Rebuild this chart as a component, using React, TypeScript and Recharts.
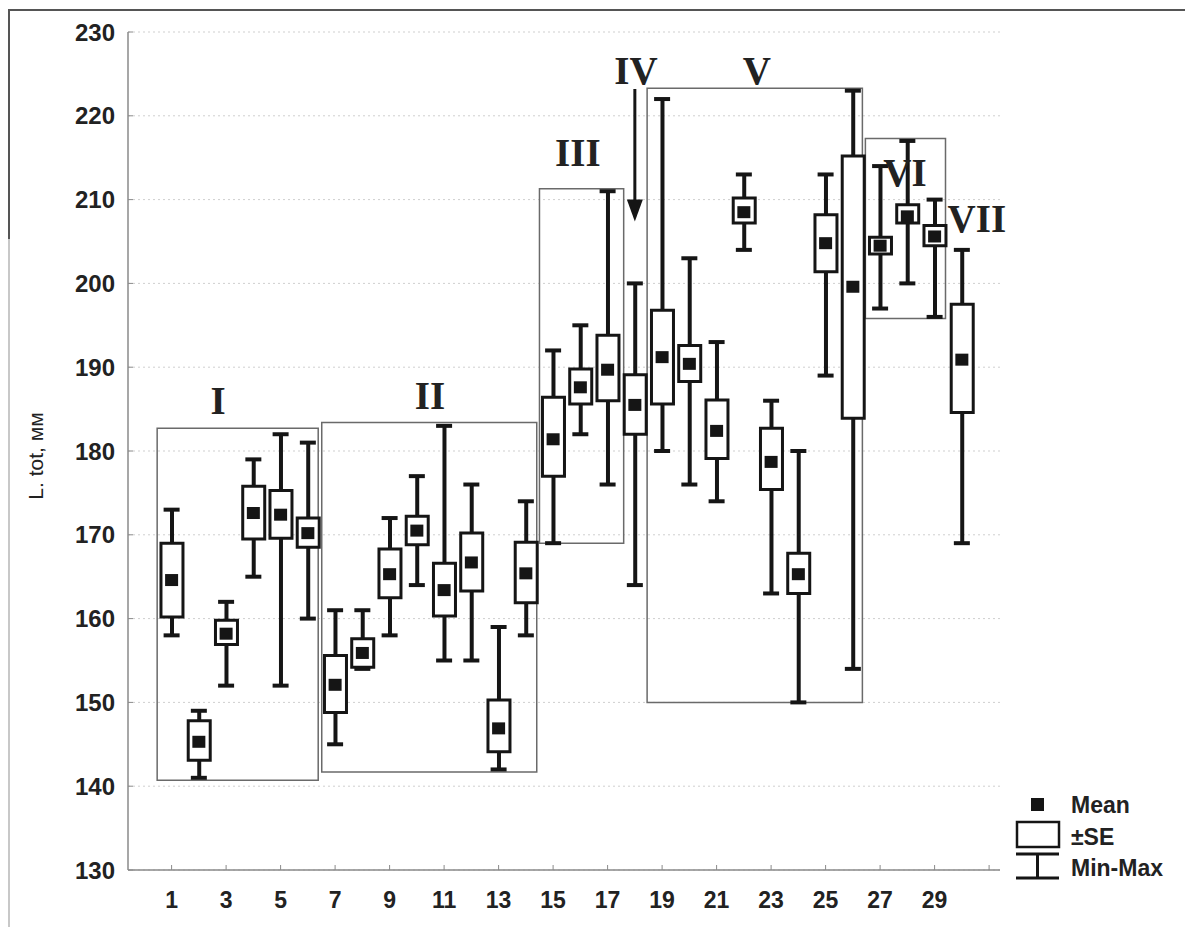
import React from "react";
import {
  ComposedChart,
  Bar,
  Scatter,
  XAxis,
  YAxis,
  CartesianGrid,
  ReferenceArea,
  ReferenceLine,
  ReferenceDot,
  Legend,
} from "recharts";

// sample numbers 1..30
const samples = [
  1, 2, 3, 4, 5, 6, 7, 8, 9, 10, 11, 12, 13, 14, 15,
  16, 17, 18, 19, 20, 21, 22, 23, 24, 25, 26, 27, 28, 29, 30,
];

const means = [
  164.6, 145.3, 158.2, 172.6, 172.4, 170.2, 152.1, 155.9, 165.3, 170.5,
  163.4, 166.7, 146.9, 165.4, 181.4, 187.6, 189.7, 185.5, 191.2, 190.4,
  182.4, 208.5, 178.7, 165.3, 204.8, 199.6, 204.5, 208.0, 205.6, 190.9,
];

// mean + SE / mean - SE
const seHigh = [
  169.0, 147.8, 159.8, 175.8, 175.3, 172.0, 155.6, 157.6, 168.3, 172.2,
  166.6, 170.2, 150.3, 169.1, 186.4, 189.8, 193.8, 189.1, 196.8, 192.6,
  186.1, 210.2, 182.7, 167.8, 208.2, 215.2, 205.5, 209.4, 206.9, 197.5,
];
const seLow = [
  160.2, 143.1, 156.9, 169.5, 169.6, 168.5, 148.8, 154.2, 162.5, 168.8,
  160.3, 163.3, 144.1, 161.9, 177.0, 185.6, 186.0, 182.0, 185.6, 188.3,
  179.1, 207.2, 175.4, 163.0, 201.4, 183.9, 203.5, 207.2, 204.5, 184.6,
];

const maxs = [
  173, 149, 162, 179, 182, 181, 161, 161, 172, 177,
  183, 176, 159, 174, 192, 195, 211, 200, 222, 203,
  193, 213, 186, 180, 213, 223, 214, 217, 210, 204,
];
const mins = [
  158, 141, 152, 165, 152, 160, 145, 154, 158, 164,
  155, 155, 142, 158, 169, 182, 176, 164, 180, 176,
  174, 204, 163, 150, 189, 154, 197, 200, 196, 169,
];

const xTicks = [1, 3, 5, 7, 9, 11, 13, 15, 17, 19, 21, 23, 25, 27, 29, 31];
const yTicks = [130, 140, 150, 160, 170, 180, 190, 200, 210, 220, 230];

// group frames (x1, x2, y1, y2 in data units)
const groupNames = ["I", "II", "III", "V", "VI"];
const groupX1 = [0.47, 6.51, 14.5, 18.45, 26.46];
const groupX2 = [6.38, 14.4, 17.59, 26.35, 29.4];
const groupY1 = [140.7, 141.7, 169.0, 150.0, 195.8];
const groupY2 = [182.7, 183.4, 211.3, 223.3, 217.3];

const labelText = ["I", "II", "III", "IV", "V", "VI", "VII"];
const labelX = [2.71, 10.48, 15.91, 18.04, 22.48, 27.91, 30.55];
const labelY = [186.1, 186.7, 215.7, 225.5, 225.5, 213.3, 207.8];

const arrowX = 18;
const arrowTop = 223.2;
const arrowTip = 207.4;

const rows = samples.map((x, i) => ({
  x,
  mean: means[i],
  se: [seLow[i], seHigh[i]],
  range: [mins[i], maxs[i]],
}));

const caps = samples.flatMap((x, i) => [
  { x, y: maxs[i] },
  { x, y: mins[i] },
]);

const INK = "#151515";
const AXIS = "#8a8a8a";
const SANS = "'Liberation Sans', Arial, sans-serif";

function BottomTick(props: any) {
  const { x, y, payload } = props;
  return (
    <g>
      <line x1={x} y1={y} x2={x} y2={y - 5} stroke={AXIS} strokeWidth={1} />
      {payload.value < 30 && (
        <text
          x={x}
          y={y + 30}
          textAnchor="middle"
          dominantBaseline="central"
          fontFamily={SANS}
          fontWeight={700}
          fontSize={23}
          fill="#222"
        >
          {payload.value}
        </text>
      )}
    </g>
  );
}

function TopTick(props: any) {
  const { x, y } = props;
  return <line x1={x} y1={y} x2={x} y2={y + 5} stroke={AXIS} strokeWidth={1} />;
}

function LeftTick(props: any) {
  const { x, y, payload } = props;
  return (
    <g>
      <line x1={x} y1={y} x2={x + 5} y2={y} stroke={AXIS} strokeWidth={1} />
      <text
        x={x - 13}
        y={y}
        textAnchor="end"
        dominantBaseline="central"
        fontFamily={SANS}
        fontWeight={700}
        fontSize={24}
        fill="#222"
      >
        {payload.value}
      </text>
    </g>
  );
}

function RightTick(props: any) {
  const { x, y } = props;
  return <line x1={x} y1={y} x2={x - 5} y2={y} stroke={AXIS} strokeWidth={1} />;
}

function YTitle(props: any) {
  const { viewBox } = props;
  const cx = 35;
  const cy = viewBox.y + viewBox.height / 2 + 5;
  return (
    <text
      x={cx}
      y={cy}
      transform={`rotate(-90 ${cx} ${cy})`}
      textAnchor="middle"
      dominantBaseline="central"
      fontFamily={SANS}
      fontSize={21}
      fill="#222"
    >
      L. tot, мм
    </text>
  );
}

function MeanMark(props: any) {
  const { cx, cy } = props;
  return <rect x={cx - 6.5} y={cy - 6} width={13} height={12} fill={INK} />;
}

function CapMark(props: any) {
  const { cx, cy } = props;
  return <line x1={cx - 8} y1={cy} x2={cx + 8} y2={cy} stroke={INK} strokeWidth={4} />;
}

function ArrowHead(props: any) {
  const { cx, cy } = props;
  return <polygon points={`${cx - 8},${cy - 22} ${cx + 8},${cy - 22} ${cx},${cy}`} fill={INK} />;
}

function LegendBox() {
  const txt = { fontFamily: SANS, fontWeight: 700, fontSize: 23, fill: "#222" };
  return (
    <svg width={175} height={100}>
      <rect x={21} y={8} width={13} height={13} fill={INK} />
      <text x={61} y={15} dominantBaseline="central" {...txt}>Mean</text>
      <rect x={7} y={32} width={42} height={25} fill="#fff" stroke={INK} strokeWidth={2.5} />
      <text x={61} y={47} dominantBaseline="central" {...txt}>±SE</text>
      <line x1={6} y1={64} x2={49} y2={64} stroke={INK} strokeWidth={3} />
      <line x1={27.5} y1={64} x2={27.5} y2={88} stroke={INK} strokeWidth={3} />
      <line x1={6} y1={88} x2={49} y2={88} stroke={INK} strokeWidth={3} />
      <text x={61} y={78} dominantBaseline="central" {...txt}>Min-Max</text>
    </svg>
  );
}

export default function App() {
  return (
    <div style={{ position: "absolute", left: 0, top: 0, width: 1185, height: 927, background: "#fff" }}>
      <div style={{ position: "absolute", left: 8, top: 9, width: 1177, height: 2, background: "#555" }} />
      <div style={{ position: "absolute", left: 8, top: 9, width: 2, height: 230, background: "#555" }} />
      <div style={{ position: "absolute", left: 8, top: 239, width: 2, height: 688, background: "#c8c8c8" }} />
      <ComposedChart
        width={1185}
        height={927}
        data={rows}
        margin={{ top: 32, right: 185, bottom: 0, left: 0 }}
        style={{ position: "absolute", left: 0, top: 0 }}
      >
        <CartesianGrid vertical={false} stroke="#cfcfcf" strokeDasharray="2 3" yAxisId="left" />
        <XAxis
          dataKey="x"
          type="number"
          domain={[-0.6, 31.4]}
          ticks={xTicks}
          height={57}
          tickSize={0}
          tickMargin={0}
          tickLine={false}
          tick={<BottomTick />}
          axisLine={{ stroke: AXIS, strokeWidth: 1.5 }}
          allowDataOverflow
        />
        <XAxis
          xAxisId="top"
          dataKey="x"
          type="number"
          orientation="top"
          domain={[-0.6, 31.4]}
          ticks={xTicks}
          height={0}
          tickSize={0}
          tickMargin={0}
          tickLine={false}
          tick={<TopTick />}
          axisLine={{ stroke: AXIS, strokeWidth: 1.5 }}
          allowDataOverflow
        />
        <XAxis xAxisId="w" dataKey="x" type="number" domain={[-0.6, 31.4]} hide allowDataOverflow />
        <YAxis
          yAxisId="left"
          type="number"
          domain={[130, 230]}
          ticks={yTicks}
          width={128}
          tickSize={0}
          tickMargin={0}
          tickLine={false}
          tick={<LeftTick />}
          axisLine={{ stroke: AXIS, strokeWidth: 1.5 }}
          allowDataOverflow
          label={<YTitle />}
        />
        <YAxis
          yAxisId="right"
          orientation="right"
          type="number"
          domain={[130, 230]}
          ticks={yTicks}
          width={0}
          tickSize={0}
          tickMargin={0}
          tickLine={false}
          tick={<RightTick />}
          axisLine={{ stroke: AXIS, strokeWidth: 1.5 }}
          allowDataOverflow
        />

        {groupNames.map((g, i) => (
          <ReferenceArea
            key={g}
            yAxisId="left"
            x1={groupX1[i]}
            x2={groupX2[i]}
            y1={groupY1[i]}
            y2={groupY2[i]}
            fill="none"
            fillOpacity={0}
            stroke="#6a6a6a"
            strokeWidth={1.5}
            ifOverflow="visible"
          />
        ))}

        <ReferenceLine
          yAxisId="left"
          segment={[
            { x: arrowX, y: arrowTop },
            { x: arrowX, y: arrowTip + 2 },
          ]}
          stroke={INK}
          strokeWidth={3}
        />
        <ReferenceDot yAxisId="left" x={arrowX} y={arrowTip} shape={<ArrowHead />} />

        <Bar
          xAxisId="w"
          yAxisId="left"
          dataKey="range"
          barSize={4}
          fill={INK}
          isAnimationActive={false}
        />
        <Bar
          yAxisId="left"
          dataKey="se"
          barSize={22}
          fill="#fff"
          stroke={INK}
          strokeWidth={3}
          isAnimationActive={false}
        />
        <Scatter yAxisId="left" data={caps} dataKey="y" shape={<CapMark />} isAnimationActive={false} />
        <Scatter yAxisId="left" data={rows} dataKey="mean" shape={<MeanMark />} isAnimationActive={false} />

        {labelText.map((t, i) => (
          <ReferenceDot
            key={t}
            yAxisId="left"
            x={labelX[i]}
            y={labelY[i]}
            r={0}
            fill="none"
            stroke="none"
            ifOverflow="visible"
            label={{
              value: t,
              position: "center",
              fontFamily: "'Liberation Serif', 'Times New Roman', serif",
              fontWeight: 700,
              fontSize: 39,
              fill: "#222",
            }}
          />
        ))}

        <Legend
          layout="horizontal"
          align="center"
          verticalAlign="middle"
          content={() => <LegendBox />}
          wrapperStyle={{ position: "absolute", left: 1010, top: 790, width: 175, height: 100 }}
        />
      </ComposedChart>
    </div>
  );
}
